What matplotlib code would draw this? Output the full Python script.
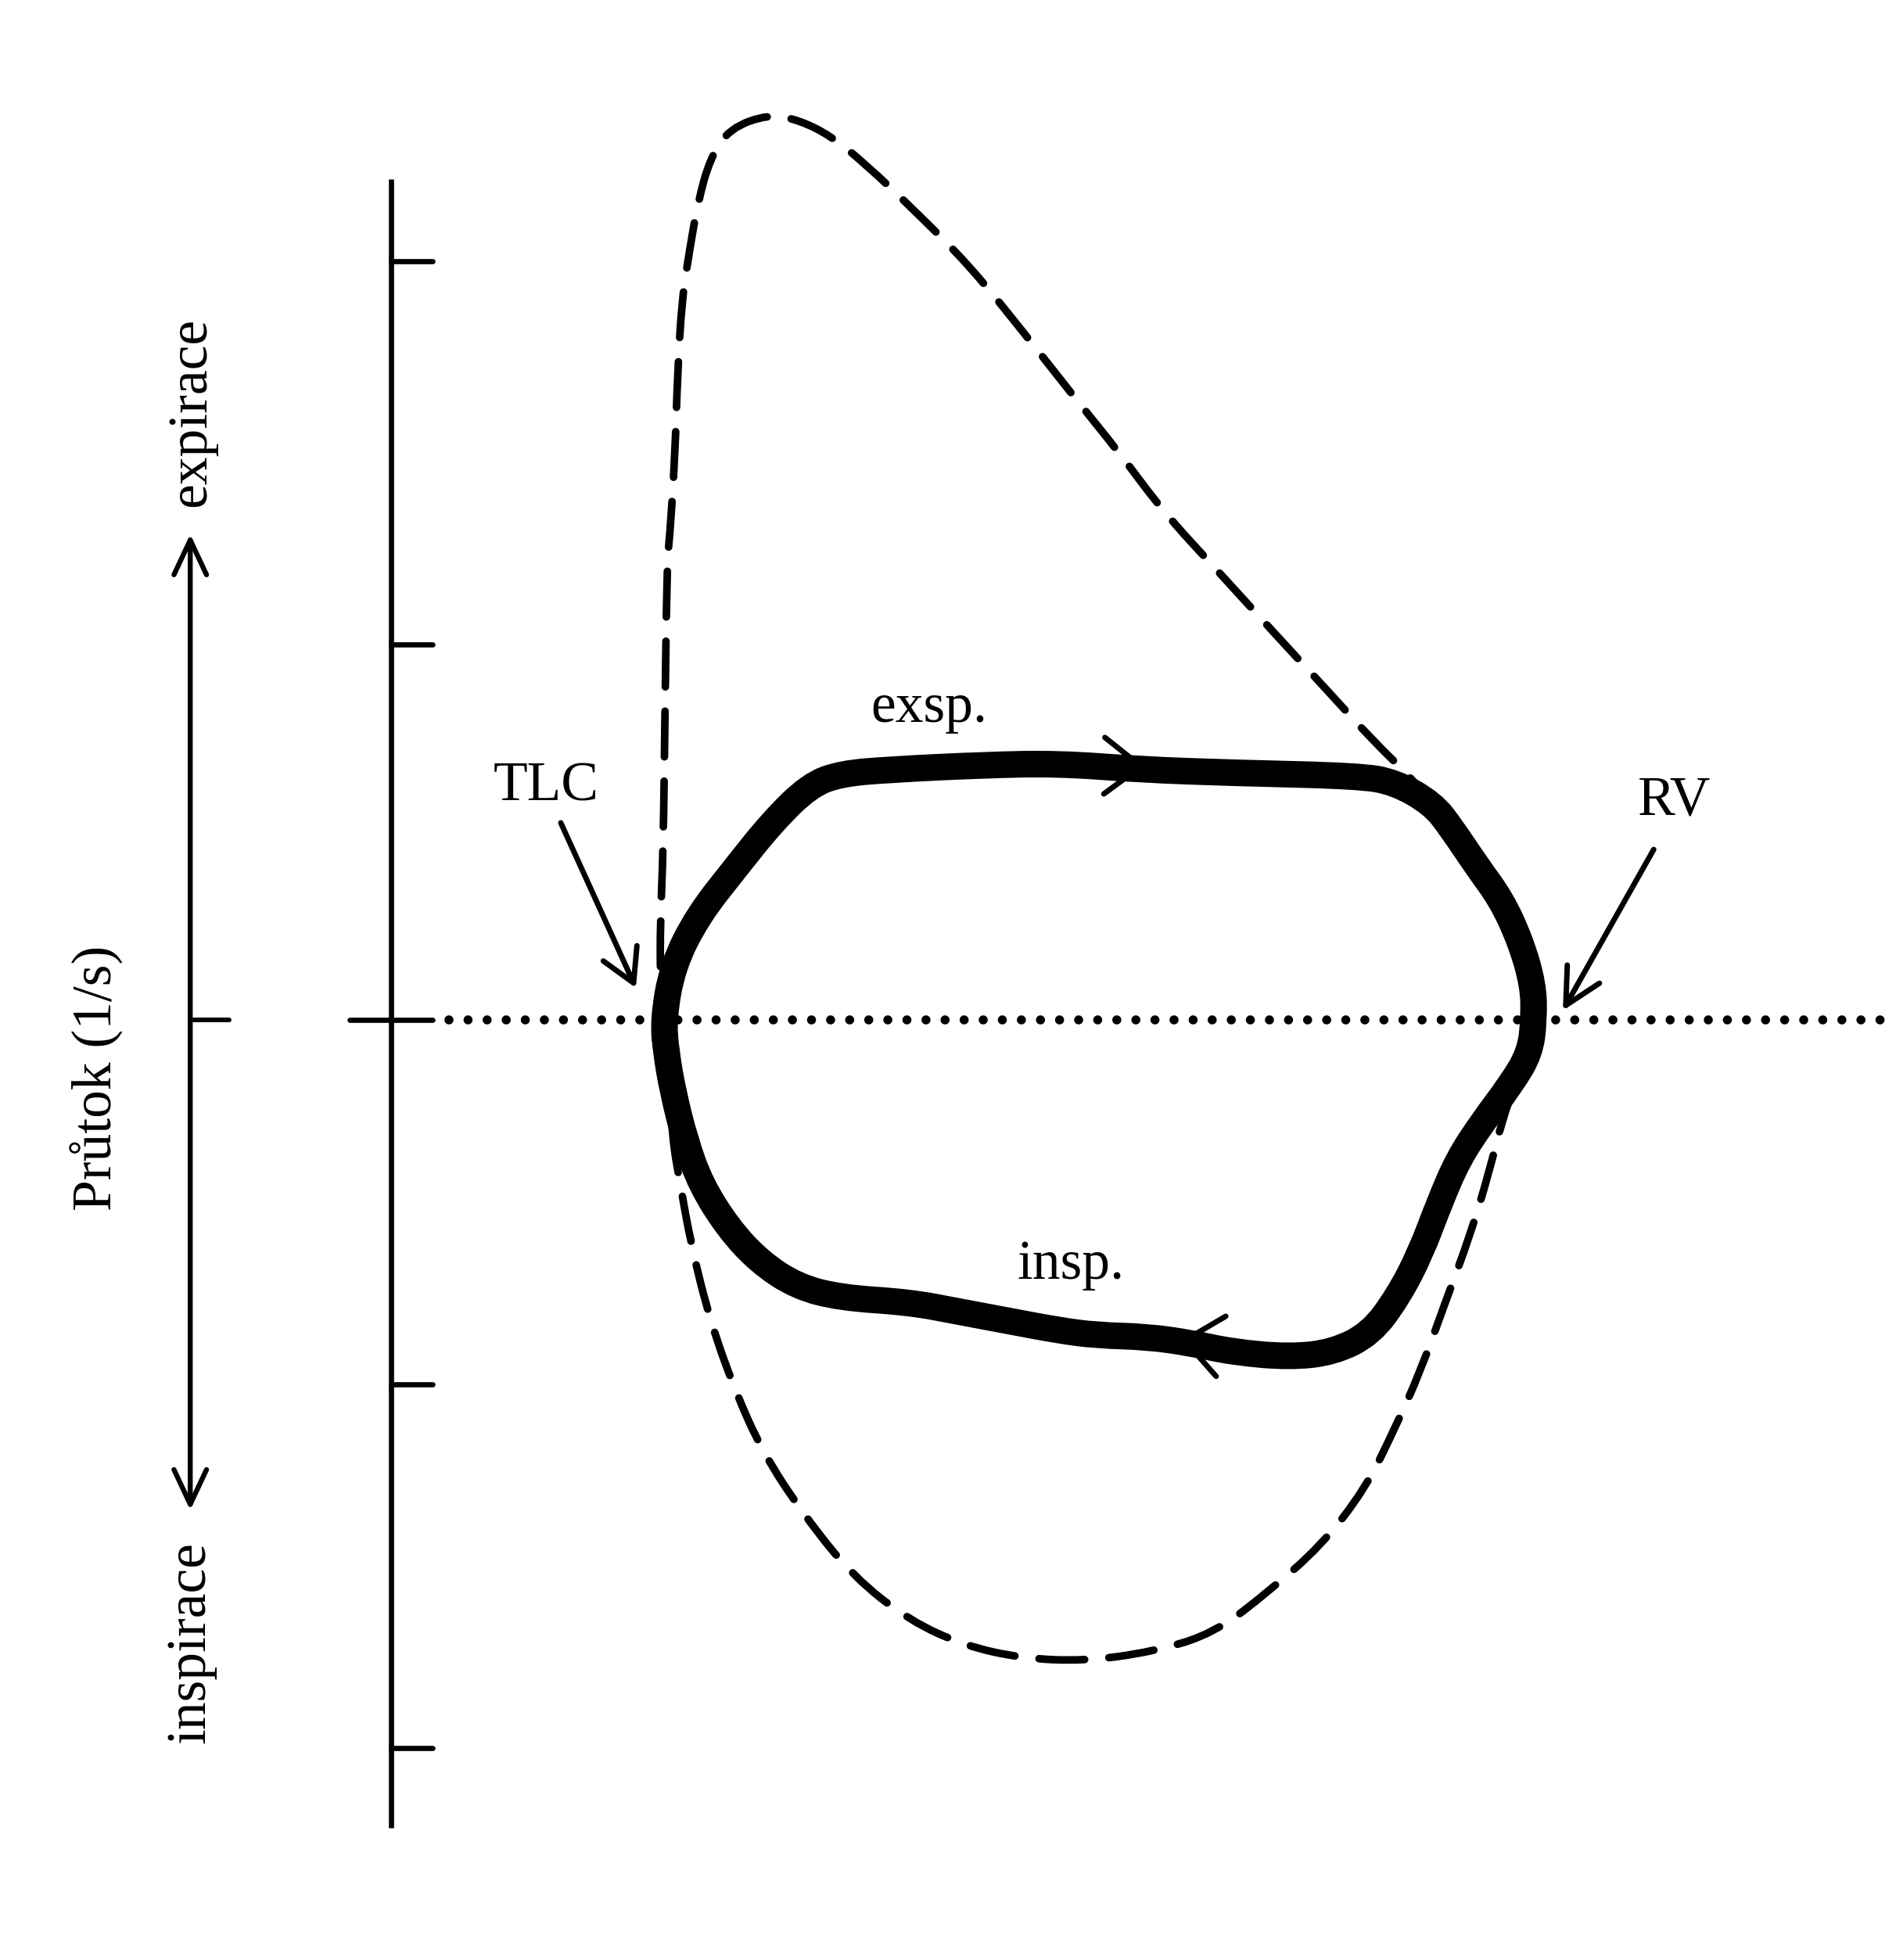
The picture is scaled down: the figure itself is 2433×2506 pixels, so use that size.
import matplotlib
matplotlib.use("Agg")
import matplotlib.pyplot as plt
from matplotlib.path import Path
from matplotlib.patches import PathPatch

# ---- data (volume from TLC, flow in l/s; expiration positive) ----
# tidal (resting) flow-volume loop, thick line
tidal_volume = [0.000, 0.025, 0.092, 0.190, 0.290, 0.390, 0.473, 0.606, 0.854, 1.054,
                1.271, 1.519, 1.852, 1.950, 2.050, 2.100, 2.167, 2.233, 2.283, 2.317,
                2.319, 2.308, 2.258, 2.183, 2.117, 2.067, 2.017, 1.958, 1.885, 1.785,
                1.669, 1.519, 1.402, 1.288, 1.154, 1.054, 0.921, 0.788, 0.656, 0.473,
                0.356, 0.256, 0.173, 0.100, 0.058, 0.025, 0.008, 0.000]
tidal_flow = [0.000, 0.144, 0.277, 0.402, 0.527, 0.625, 0.656, 0.667, 0.679, 0.683,
              0.667, 0.658, 0.650, 0.633, 0.575, 0.510, 0.410, 0.319, 0.210, 0.094,
              0.000, -0.088, -0.171, -0.271, -0.371, -0.488, -0.621, -0.735, -0.835, -0.885,
              -0.898, -0.885, -0.860, -0.844, -0.840, -0.827, -0.802, -0.777, -0.752, -0.740,
              -0.710, -0.644, -0.554, -0.438, -0.321, -0.188, -0.088, 0.000]

# maximal flow-volume loop, dashed line
max_volume = [0.000, -0.008, -0.008, 0.000, 0.004, 0.010, 0.017, 0.031, 0.038, 0.050,
              0.071, 0.092, 0.125, 0.177, 0.283, 0.363, 0.444, 0.535, 0.669, 0.815,
              0.960, 1.100, 1.213, 1.333, 1.473, 1.625, 1.771, 1.892, 1.983, 2.050,
              2.100, 2.167, 2.233, 2.283, 2.317, 2.319, 2.308, 2.275, 2.233, 2.200,
              2.150, 2.083, 2.017, 1.950, 1.869, 1.752, 1.619, 1.469, 1.304, 1.121,
              0.954, 0.804, 0.656, 0.506, 0.373, 0.265, 0.190, 0.125, 0.075, 0.042,
              0.025, 0.008, 0.000]
max_flow = [0.000, 0.110, 0.260, 0.460, 0.781, 1.219, 1.285, 1.498, 1.725, 1.923,
            2.056, 2.177, 2.296, 2.375, 2.413, 2.396, 2.356, 2.283, 2.156, 2.010,
            1.831, 1.652, 1.513, 1.352, 1.200, 1.033, 0.875, 0.742, 0.654, 0.575,
            0.510, 0.410, 0.319, 0.210, 0.094, 0.000, -0.088, -0.154, -0.271, -0.404,
            -0.571, -0.752, -0.935, -1.085, -1.250, -1.400, -1.517, -1.633, -1.683, -1.708,
            -1.700, -1.667, -1.600, -1.483, -1.317, -1.152, -0.985, -0.802, -0.604, -0.421,
            -0.321, -0.088, 0.000]

flow_ticks = [2.02, 1.0, 0.0, -0.97, -1.94]
axis_volume = -0.725
axis_flow_range = [-2.152, 2.240]
zero_line_range = [-0.57, 3.25]

labels_text = ["TLC", "RV", "exsp.", "insp."]
labels_volume = [-0.313, 2.692, 0.708, 1.085]
labels_flow = [0.585, 0.548, 0.794, -0.690]

FONT = ["Liberation Serif", "DejaVu Serif"]
FS = 51.5


def smooth_closed_path(xs, ys):
    """Closed quadratic-Bezier path using the read points as control points."""
    pts = list(zip(xs, ys))
    if pts[0] == pts[-1]:
        pts = pts[:-1]
    n = len(pts)
    mid = lambda a, b: ((a[0] + b[0]) / 2.0, (a[1] + b[1]) / 2.0)
    verts = [mid(pts[-1], pts[0])]
    codes = [Path.MOVETO]
    for i in range(n):
        verts += [pts[i], mid(pts[i], pts[(i + 1) % n])]
        codes += [Path.CURVE3, Path.CURVE3]
    return Path(verts, codes)


fig = plt.figure(figsize=(24.33, 25.06), dpi=100)
ax = fig.add_axes([0, 0, 1, 1])
ax.set_xlim(-1.7667, 3.302)
ax.set_ylim(-2.504, 2.7167)
ax.axis("off")

# zero flow dotted line
ax.plot(zero_line_range, [0, 0], color="black", lw=8.4,
        linestyle=(0, (0.001, 2.09)), dash_capstyle="round", zorder=1)

# maximal loop (dashed)
dashed = PathPatch(smooth_closed_path(max_volume, max_flow), fill=False,
                   edgecolor="black", lw=7.0, linestyle=(0, (6.0, 3.2)),
                   capstyle="round", joinstyle="round", zorder=2)
ax.add_patch(dashed)

# tidal loop (thick)
thick = PathPatch(smooth_closed_path(tidal_volume, tidal_flow), fill=False,
                  edgecolor="black", lw=24.5, capstyle="round", joinstyle="round", zorder=3)
ax.add_patch(thick)

# flow axis with ticks
ax.plot([axis_volume, axis_volume], axis_flow_range, color="black", lw=4.8,
        solid_capstyle="butt", zorder=2)
for t in flow_ticks:
    left = axis_volume - (0.11 if t == 0 else 0.0)
    ax.plot([left, axis_volume + 0.11], [t, t], color="black", lw=4.8,
            solid_capstyle="round", zorder=2)

# direction double arrow on the far left
arr_v = -1.260
ax.annotate("", xy=(arr_v, 1.294), xytext=(arr_v, -1.306),
            arrowprops=dict(arrowstyle="<->, head_length=32, head_width=15",
                            mutation_scale=1, lw=4.6, color="black",
                            shrinkA=0, shrinkB=0))
ax.plot([arr_v, arr_v + 0.104], [0, 0], color="black", lw=4.3, solid_capstyle="round")

# pointer arrows to TLC and RV
ax.annotate("", xy=(-0.073, 0.085), xytext=(-0.273, 0.525),
            arrowprops=dict(arrowstyle="->, head_length=30, head_width=17",
                            mutation_scale=1, lw=5, color="black",
                            shrinkA=0, shrinkB=0))
ax.annotate("", xy=(2.396, 0.025), xytext=(2.638, 0.454),
            arrowprops=dict(arrowstyle="->, head_length=33, head_width=17",
                            mutation_scale=1, lw=5, color="black",
                            shrinkA=0, shrinkB=0))

# direction chevrons on tidal loop
ax.annotate("", xy=(1.285, 0.675), xytext=(1.185, 0.677),
            arrowprops=dict(arrowstyle="->, head_length=34, head_width=26",
                            mutation_scale=1, lw=5, color="black",
                            shrinkA=0, shrinkB=0), zorder=4)
ax.annotate("", xy=(1.377, -0.852), xytext=(1.477, -0.868),
            arrowprops=dict(arrowstyle="->, head_length=34, head_width=28",
                            mutation_scale=1, lw=5, color="black",
                            shrinkA=0, shrinkB=0), zorder=4)

# labels
for txt, v, f in zip(labels_text, labels_volume, labels_flow):
    ax.text(v, f, txt, family=FONT, fontsize=FS, ha="center", va="baseline")

ax.text(-1.221, 1.619, "expirace", family=FONT, fontsize=FS, rotation=90,
        rotation_mode="anchor", ha="center", va="baseline")
ax.text(-1.221, -1.658, "inspirace", family=FONT, fontsize=FS, rotation=90,
        rotation_mode="anchor", ha="center", va="baseline")
ax.text(-1.469, -0.154, "Průtok (1/s)", family=FONT, fontsize=FS, rotation=90,
        rotation_mode="anchor", ha="center", va="baseline")

fig.savefig("out.png", dpi=100, facecolor="white")
